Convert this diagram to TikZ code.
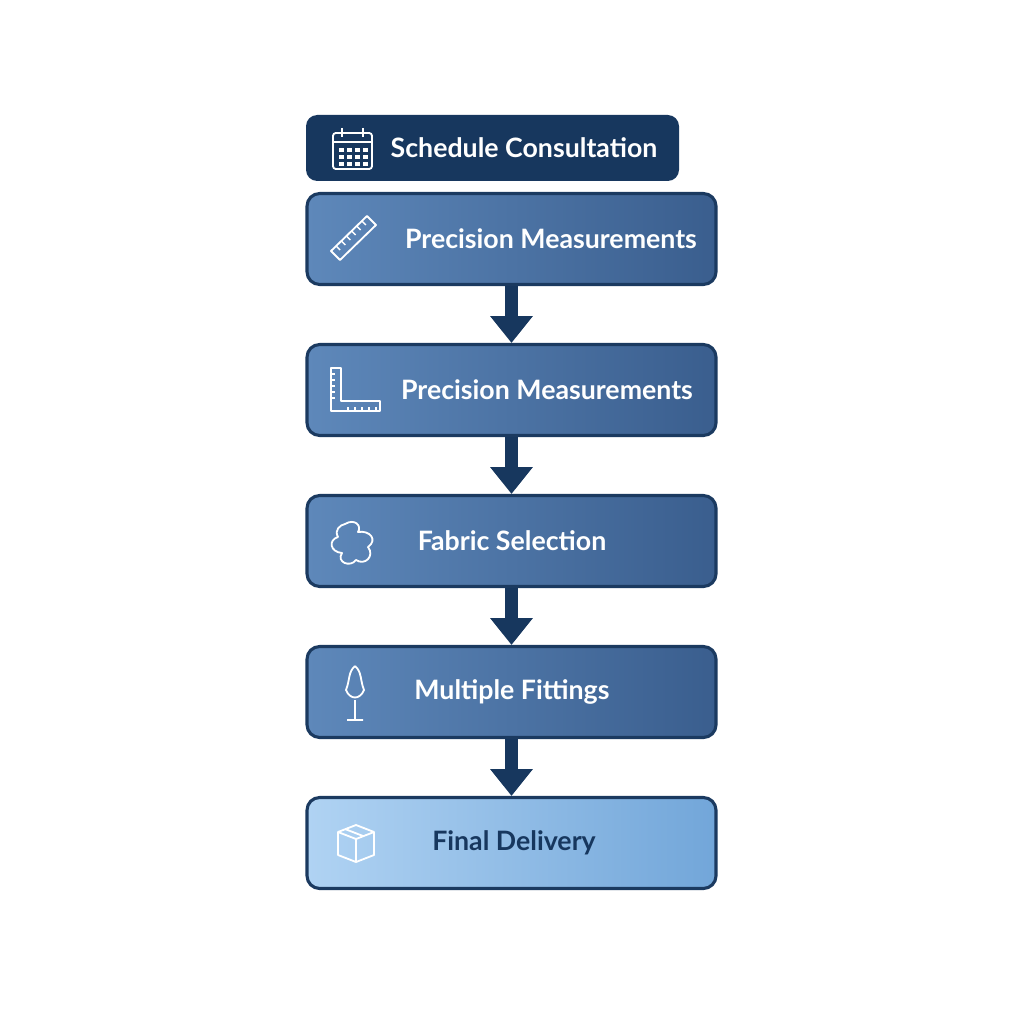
\documentclass[tikz,border=0pt]{standalone}
\usepackage{fontspec}
\setmainfont{Lato}
\usetikzlibrary{positioning,arrows.meta,calc}
\definecolor{navy}{HTML}{17375E}
\definecolor{rim}{HTML}{1B3A60}
\definecolor{midA}{HTML}{5E88BA}
\definecolor{midB}{HTML}{3A5E8E}
\definecolor{liteA}{HTML}{B0D3F3}
\definecolor{liteB}{HTML}{72A6D9}
\tikzset{
  stage/.style={draw=rim, line width=2.2pt, rounded corners=9pt, minimum width=409*0.025cm,
    minimum height=91*0.025cm, left color=midA, right color=midB},
  last/.style={stage, left color=liteA, right color=liteB},
  label/.style={text=white, font=\bfseries\fontsize{19}{22}\selectfont},
  flow/.style={navy, line width=9pt, -{Triangle[width=29pt,length=19pt]}},
  icon/.style={white, line width=1.3pt, line join=round}
}
\begin{document}
\begin{tikzpicture}[x=0.025cm, y=-0.025cm]
\useasboundingbox[fill=white] (0,0) rectangle (1024,1024);

% top banner
\node[fill=navy, rounded corners=8pt, minimum width=373*0.025cm, minimum height=66*0.025cm,
  inner sep=0pt] (sched) at (492.5,148) {};
\node[label] (schedtxt) at (524,148) {Schedule Consultation};

% stages
\node[stage] (meas) at (511.5,239) {};
\node[label] (meastxt) at (551,239) {Precision Measurements};
\node[stage] (meastwo) at (511.5,390) {};
\node[label] (meastwotxt) at (547,390) {Precision Measurements};
\node[stage] (fabric) at (511.5,541) {};
\node[label] (fabrictxt) at (512,541) {Fabric Selection};
\node[stage] (fit) at (511.5,692) {};
\node[label] (fittxt) at (512,692) {Multiple Fittings};
\node[last] (deliv) at (511.5,843) {};
\node[label, text=navy] (delivtxt) at (514,843) {Final Delivery};

% arrows
\draw[flow] (meas.south) -- (meastwo.north);
\draw[flow] (meastwo.south) -- (fabric.north);
\draw[flow] (fabric.south) -- (fit.north);
\draw[flow] (fit.south) -- (deliv.north);

% icons
\draw[icon, rounded corners=2pt] (333,133) rectangle (372,169);
\draw[icon] (333,142) -- (372,142) (342,128) -- (342,137) (363,128) -- (363,137);
\foreach \i in {0,...,3} \foreach \j in {0,1,2}
  \fill[white] (339+\i*8,148+\j*7) rectangle +(5,4);
\draw[icon] (331,251) -- (367,216) -- (376,225) -- (340,260) -- cycle;
\foreach \k in {1,...,6} \draw[icon, line width=1pt] ($(335,255)!\k/7!(371,220)$) -- +(-4,-4);
\draw[icon] (331,368) -- (331,411) -- (380,411) -- (380,401) -- (341,401) -- (341,368) -- cycle;
\foreach \k in {1,...,5} \draw[icon, line width=1pt] (331,368+\k*6) -- +(4,0) (341+\k*7,411) -- +(0,-4);
\draw[icon] (345,524) .. controls (355,518) and (362,526) .. (358,532)
  .. controls (370,530) and (378,540) .. (368,547) .. controls (375,556) and (365,566) .. (356,560)
  .. controls (350,568) and (336,562) .. (342,553) .. controls (330,552) and (328,540) .. (338,537)
  .. controls (334,530) and (340,525) .. (345,524);
\draw[icon] (355,666) .. controls (348,672) and (350,680) .. (346,690) .. controls (350,700) and (360,700) .. (364,690)
  .. controls (360,680) and (362,672) .. (355,666) (355,700) -- (355,719) (347,720) -- (363,720);
\draw[icon] (338,832) -- (356,825) -- (374,832) -- (374,855) -- (356,862) -- (338,855) -- cycle
  (338,832) -- (356,839) -- (374,832) (356,839) -- (356,862) (345,829) -- (363,836);
\end{tikzpicture}
\end{document}
